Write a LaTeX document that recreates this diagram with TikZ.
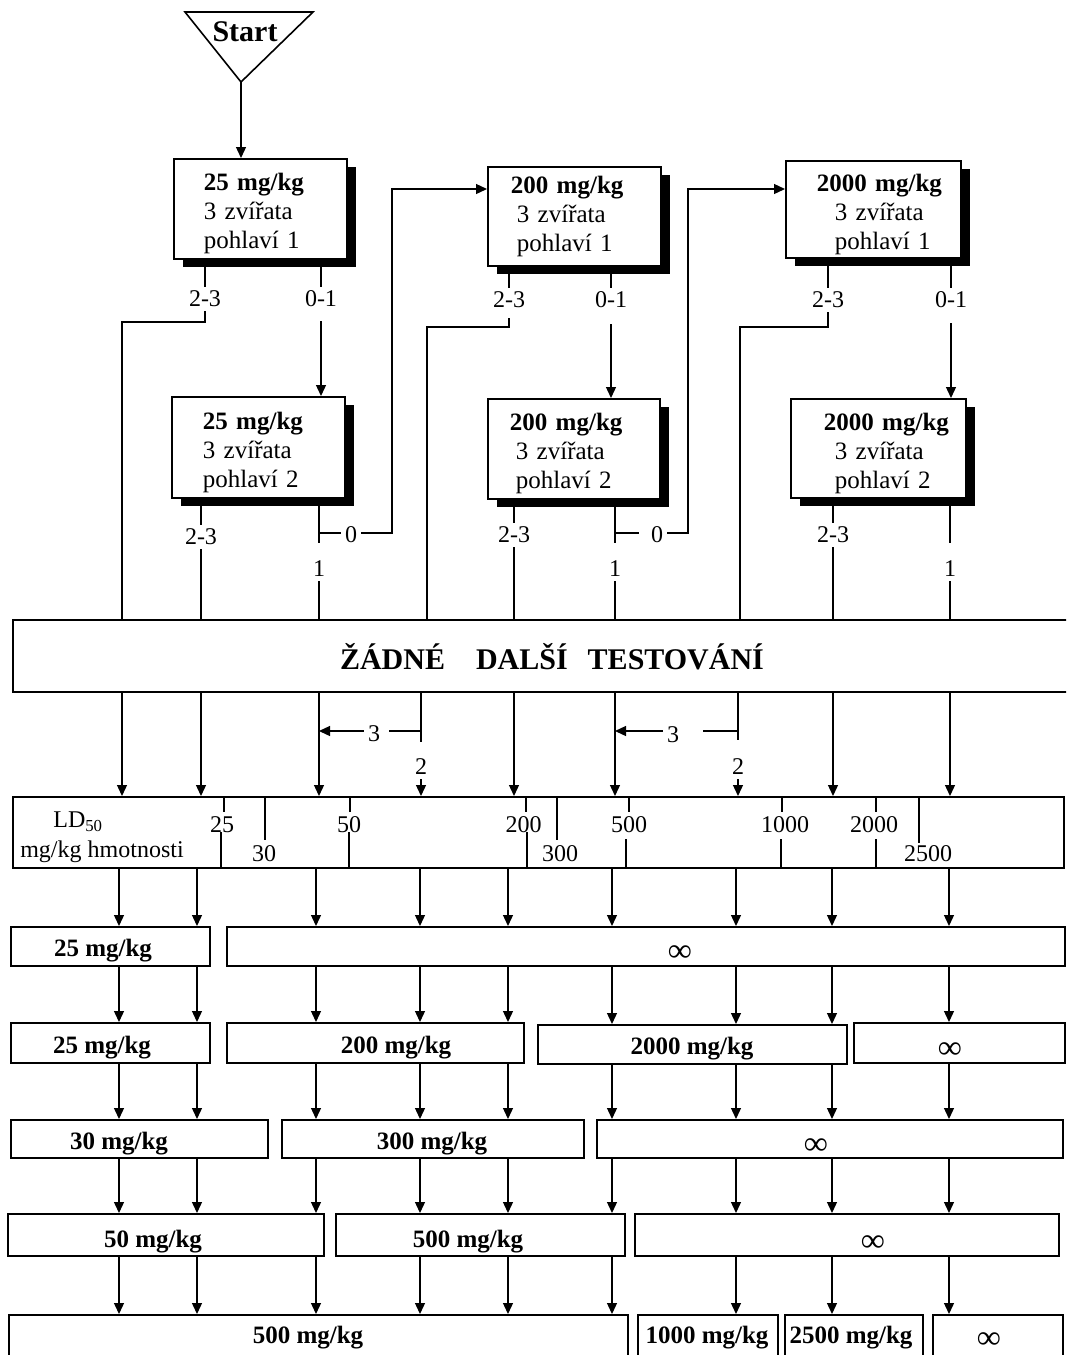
\documentclass[tikz,border=0pt]{standalone}
\usepackage{fontspec}
\setmainfont{Liberation Serif}
\usetikzlibrary{arrows.meta,shadows}
\newcommand{\topstrut}{\rule{0pt}{27pt}}
\begin{document}
\begin{tikzpicture}[x=1pt,y=-1pt,
  every node/.style={inner sep=0pt},
  ln/.style={line width=1.3pt},
  arr/.style={line width=1.3pt,-{Triangle[length=11pt,width=10pt]}},
  dose/.style={draw,line width=1.8pt,fill=white,anchor=north west,align=left,
     font=\fontsize{25}{29}\selectfont,
     drop shadow={shadow xshift=9pt,shadow yshift=-8pt,fill=black,opacity=1}},
  lbl/.style={font=\fontsize{24}{24}\selectfont,inner sep=4pt},
  sclbl/.style={font=\fontsize{24}{24}\selectfont},
  rowbox/.style={draw,line width=1.8pt,anchor=north west},
  rowtxt/.style={font=\bfseries\fontsize{25}{25}\selectfont},
  inftxt/.style={font=\bfseries\fontsize{33}{33}\selectfont},
  tickln/.style={line width=2pt},
]
\useasboundingbox (0,0) rectangle (1066,1355);
\fill[white] (0,0) rectangle (1066,1355);
\clip (0,0) rectangle (1066,1355);

% ---------- start ----------
\coordinate (apex) at (241,82);
\draw[line width=1.6pt,line join=miter] (185,12) -- (313,12) -- (apex) -- cycle;
\node[font=\bfseries\fontsize{30}{30}\selectfont] (start) at (245,32) {Start};

% ---------- dose boxes ----------
\node[dose,text width=173pt,minimum height=100pt] (a1) at (173,158)
 {\hspace*{30pt}\topstrut\textbf{25 mg/kg}\\\hspace*{30pt}3 zvířata\\\hspace*{30pt}pohlaví 1};
\node[dose,text width=173pt,minimum height=101pt] (a2) at (171,396)
 {\hspace*{31pt}\topstrut\textbf{25 mg/kg}\\\hspace*{31pt}3 zvířata\\\hspace*{31pt}pohlaví 2};
\node[dose,text width=173pt,minimum height=99pt] (b1) at (487,166)
 {\hspace*{23pt}\textbf{200 mg/kg}\\\hspace*{29pt}3 zvířata\\\hspace*{29pt}pohlaví 1};
\node[dose,text width=172pt,minimum height=100pt] (b2) at (487,398)
 {\hspace*{22pt}\topstrut\textbf{200 mg/kg}\\\hspace*{28pt}3 zvířata\\\hspace*{28pt}pohlaví 2};
\node[dose,text width=175pt,minimum height=97pt] (c1) at (785,160)
 {\hspace*{31pt}\topstrut\textbf{2000 mg/kg}\\\hspace*{49pt}3 zvířata\\\hspace*{49pt}pohlaví 1};
\node[dose,text width=175pt,minimum height=99pt] (c2) at (790,398)
 {\hspace*{33pt}\topstrut\textbf{2000 mg/kg}\\\hspace*{44pt}3 zvířata\\\hspace*{44pt}pohlaví 2};

% ---------- no further testing ----------
\node[draw,line width=1.8pt,anchor=north west,minimum width=1062pt,minimum height=72pt] (z) at (12,619) {};
\node[font=\bfseries\fontsize{30}{30}\selectfont] (ztxt) at (552,657)
 {ŽÁDNÉ\hspace{31pt}DALŠÍ\hspace{20pt}TESTOVÁNÍ};

% ---------- scale ----------
\node[draw,line width=1.8pt,anchor=north west,minimum width=1051pt,minimum height=71pt] (sc) at (12,796) {};

% columns
\coordinate (m1) at (122,0);
\coordinate (m2) at (201,0);
\coordinate (m3) at (319,0);
\coordinate (m4) at (421,0);
\coordinate (m5) at (514,0);
\coordinate (m6) at (615,0);
\coordinate (m7) at (738,0);
\coordinate (m8) at (833,0);
\coordinate (m9) at (950,0);

\draw[arr] (apex) -- (apex |- a1.north);

% A1 outputs
\node[lbl] (a1l) at (205,299) {2-3};
\node[lbl] (a1r) at (321,299) {0-1};
\coordinate (k1) at (122,322);
\draw[ln] (a1.south -| a1l) -- (a1l.north);
\draw[ln] (a1l.south) |- (k1) -- (k1 |- z.north);
\draw[ln] (a1.south -| a1r) -- (a1r.north);
\draw[arr] ([yshift=-10pt]a1r.south) -- (a1r |- a2.north);

% A2 outputs
\node[lbl] (a2l) at (201,537) {2-3};
\draw[ln] (a2.south -| a2l) -- (a2l.north);
\draw[ln] (a2l.south) -- (a2l |- z.north);
\coordinate (a2e) at (319,543);
\coordinate (a2j) at (319,533);
\coordinate (a2k) at (392,533);
\coordinate (b1in) at ([yshift=-23pt]b1.north west);
\node[lbl] (a2z) at (351,535) {0};
\node[lbl] (a2o) at (319,569) {1};
\draw[ln] (a2.south -| a2e) -- (a2e);
\draw[ln] (a2j) -- (a2j -| a2z.west);
\draw[arr] (a2z.east |- a2k) -- (a2k) -- (a2k |- b1in) -- (b1in);
\draw[ln] (a2o.south) -- (a2o |- z.north);

% B1 outputs
\node[lbl] (b1l) at (509,300) {2-3};
\node[lbl] (b1r) at (611,300) {0-1};
\coordinate (k2) at (427,327);
\draw[ln] (b1.south -| b1l) -- (b1l.north);
\draw[ln] ([yshift=-6pt]b1l.south) |- (k2) -- (k2 |- z.north);
\draw[ln] (b1.south -| b1r) -- (b1r.north);
\draw[arr] ([yshift=-12pt]b1r.south) -- (b1r |- b2.north);

% B2 outputs
\node[lbl] (b2l) at (514,535) {2-3};
\draw[ln] (b2.south -| b2l) -- (b2l.north);
\draw[ln] (b2l.south) -- (b2l |- z.north);
\coordinate (b2e) at (615,543);
\coordinate (b2j) at (615,533);
\coordinate (b2k) at (688,533);
\coordinate (c1in) at ([yshift=-29pt]c1.north west);
\node[lbl] (b2z) at (657,535) {0};
\node[lbl] (b2o) at (615,569) {1};
\draw[ln] (b2.south -| b2e) -- (b2e);
\draw[ln] (b2j) -- ([xshift=-8pt]b2j -| b2z.west);
\draw[arr] (b2z.east |- b2k) -- (b2k) -- (b2k |- c1in) -- (c1in);
\draw[ln] (b2o.south) -- (b2o |- z.north);

% C1 outputs
\node[lbl] (c1l) at (828,300) {2-3};
\node[lbl] (c1r) at (951,300) {0-1};
\coordinate (k3) at (740,327);
\draw[ln] (c1.south -| c1l) -- (c1l.north);
\draw[ln] (c1l.south) |- (k3) -- (k3 |- z.north);
\draw[ln] (c1.south -| c1r) -- (c1r.north);
\draw[arr] ([yshift=-11pt]c1r.south) -- (c1r |- c2.north);

% C2 outputs
\node[lbl] (c2l) at (833,535) {2-3};
\draw[ln] (c2.south -| c2l) -- (c2l.north);
\draw[ln] (c2l.south) -- (c2l |- z.north);
\coordinate (c2e) at (950,543);
\node[lbl] (c2o) at (950,569) {1};
\draw[ln] (c2.south -| c2e) -- (c2e);
\draw[ln] (c2o.south) -- (c2o |- z.north);

% ---------- from "no further testing" to the scale ----------
\foreach \m in {m1,m2,m3,m5,m6,m8,m9}
  \draw[arr] (z.south -| \m) -- (sc.north -| \m);

\coordinate (j4) at (421,731);
\coordinate (j4e) at (421,742);
\coordinate (j4s) at (389,731);
\node[lbl] (t3a) at (374,734) {3};
\node[lbl] (t2a) at (421,767) {2};
\draw[ln] (z.south -| j4) -- (j4e);
\draw[ln] (j4) -- (j4s);
\draw[arr] (t3a.west |- j4) -- (j4 -| m3);
\draw[arr] (t2a.south) -- (sc.north -| t2a);

\coordinate (j7) at (738,731);
\coordinate (j7e) at (738,740);
\coordinate (j7s) at (703,731);
\node[lbl] (t3b) at (673,735) {3};
\node[lbl] (t2b) at (738,767) {2};
\draw[ln] (z.south -| j7) -- (j7e);
\draw[ln] (j7) -- (j7s);
\draw[arr] (t3b.west |- j7) -- (j7 -| m6);
\draw[arr] (t2b.south) -- (sc.north -| t2b);

% scale content
\node[sclbl] (ld) at (78,822) {LD\textsubscript{50}};
\node[sclbl] (unit) at (102,852) {mg/kg hmotnosti};
% split ticks
\draw[tickln] (224,796) -- (224,812);  \draw[tickln] (221,832) -- (221,867);
\node[sclbl] (v25) at (222,825) {25};
\draw[tickln] (349.5,796) -- (349.5,812);  \draw[tickln] (348.5,832) -- (348.5,867);
\node[sclbl] (v50) at (349,825) {50};
\draw[tickln] (526,796) -- (526,812);  \draw[tickln] (527,832) -- (527,867);
\node[sclbl] (v200) at (523.5,825) {200};
\draw[tickln] (629,796) -- (629,812);  \draw[tickln] (626,839) -- (626,867);
\node[sclbl] (v500) at (629,825) {500};
\draw[tickln] (782,796) -- (782,812);  \draw[tickln] (781,839) -- (781,867);
\node[sclbl] (v1000) at (785,825) {1000};
\draw[tickln] (875.5,796) -- (875.5,812);  \draw[tickln] (875.5,839) -- (875.5,867);
\node[sclbl] (v2000) at (874,825) {2000};
% long ticks
\draw[tickln] (265,796) -- (265,840);
\node[sclbl] (v30) at (264,854) {30};
\draw[tickln] (557,796) -- (557,840);
\node[sclbl] (v300) at (560,854) {300};
\draw[tickln] (919,796) -- (919,843);
\node[sclbl] (v2500) at (928,854) {2500};

% ---------- result rows ----------
\coordinate (n1) at (119,0);
\coordinate (n2) at (197,0);
\coordinate (n3) at (316,0);
\coordinate (n4) at (420,0);
\coordinate (n5) at (508,0);
\coordinate (n6) at (612,0);
\coordinate (n7) at (736,0);
\coordinate (n8) at (832,0);
\coordinate (n9) at (949,0);

% row 1
\node[rowbox,minimum width=199pt,minimum height=39pt] (r1a) at (10,926) {};
\node[rowbox,minimum width=838pt,minimum height=39pt] (r1b) at (226,926) {};
\node[rowtxt] (t1a) at (103,951) {25 mg/kg};
\node[inftxt] (t1b) at (680,954) {∞};
% row 2
\node[rowbox,minimum width=199pt,minimum height=40pt] (r2a) at (10,1022) {};
\node[rowbox,minimum width=297pt,minimum height=40pt] (r2b) at (226,1022) {};
\node[rowbox,minimum width=309pt,minimum height=39pt] (r2c) at (537,1024) {};
\node[rowbox,minimum width=211pt,minimum height=40pt] (r2d) at (853,1022) {};
\node[rowtxt] (t2a) at (102,1048) {25 mg/kg};
\node[rowtxt] (t2b) at (396,1048) {200 mg/kg};
\node[rowtxt] (t2c) at (692,1049) {2000 mg/kg};
\node[inftxt] (t2d) at (950,1051) {∞};
% row 3
\node[rowbox,minimum width=257pt,minimum height=38pt] (r3a) at (10,1119) {};
\node[rowbox,minimum width=302pt,minimum height=38pt] (r3b) at (281,1119) {};
\node[rowbox,minimum width=466pt,minimum height=38pt] (r3c) at (596,1119) {};
\node[rowtxt] (t3a) at (119,1144) {30 mg/kg};
\node[rowtxt] (t3b) at (432,1144) {300 mg/kg};
\node[inftxt] (t3c) at (816,1147) {∞};
% row 4
\node[rowbox,minimum width=316pt,minimum height=42pt] (r4a) at (7,1213) {};
\node[rowbox,minimum width=289pt,minimum height=42pt] (r4b) at (335,1213) {};
\node[rowbox,minimum width=424pt,minimum height=42pt] (r4c) at (634,1213) {};
\node[rowtxt] (t4a) at (153,1242) {50 mg/kg};
\node[rowtxt] (t4b) at (468,1242) {500 mg/kg};
\node[inftxt] (t4c) at (873,1244) {∞};
% row 5
\node[rowbox,minimum width=619pt,minimum height=50pt] (r5a) at (8,1314) {};
\node[rowbox,minimum width=140pt,minimum height=50pt] (r5b) at (637,1314) {};
\node[rowbox,minimum width=138pt,minimum height=50pt] (r5c) at (784,1314) {};
\node[rowbox,minimum width=130pt,minimum height=50pt] (r5d) at (932,1314) {};
\node[rowtxt] (t5a) at (308,1338) {500 mg/kg};
\node[rowtxt] (t5b) at (707,1338) {1000 mg/kg};
\node[rowtxt] (t5c) at (851,1338) {2500 mg/kg};
\node[inftxt] (t5d) at (989,1341) {∞};

% scale -> row 1
\foreach \n/\b in {n1/r1a,n2/r1a,n3/r1b,n4/r1b,n5/r1b,n6/r1b,n7/r1b,n8/r1b,n9/r1b}
  \draw[arr] (sc.south -| \n) -- (\b.north -| \n);
% row 1 -> row 2
\foreach \n/\a/\b in {n1/r1a/r2a,n2/r1a/r2a,n3/r1b/r2b,n4/r1b/r2b,n5/r1b/r2b,n6/r1b/r2c,n7/r1b/r2c,n8/r1b/r2c,n9/r1b/r2d}
  \draw[arr] (\a.south -| \n) -- (\b.north -| \n);
% row 2 -> row 3
\foreach \n/\a/\b in {n1/r2a/r3a,n2/r2a/r3a,n3/r2b/r3b,n4/r2b/r3b,n5/r2b/r3b,n6/r2c/r3c,n7/r2c/r3c,n8/r2c/r3c,n9/r2d/r3c}
  \draw[arr] (\a.south -| \n) -- (\b.north -| \n);
% row 3 -> row 4
\foreach \n/\a/\b in {n1/r3a/r4a,n2/r3a/r4a,n3/r3b/r4a,n4/r3b/r4b,n5/r3b/r4b,n6/r3c/r4b,n7/r3c/r4c,n8/r3c/r4c,n9/r3c/r4c}
  \draw[arr] (\a.south -| \n) -- (\b.north -| \n);
% row 4 -> row 5
\foreach \n/\a/\b in {n1/r4a/r5a,n2/r4a/r5a,n3/r4a/r5a,n4/r4b/r5a,n5/r4b/r5a,n6/r4b/r5a,n7/r4c/r5b,n8/r4c/r5c,n9/r4c/r5d}
  \draw[arr] (\a.south -| \n) -- (\b.north -| \n);
\end{tikzpicture}
\end{document}
